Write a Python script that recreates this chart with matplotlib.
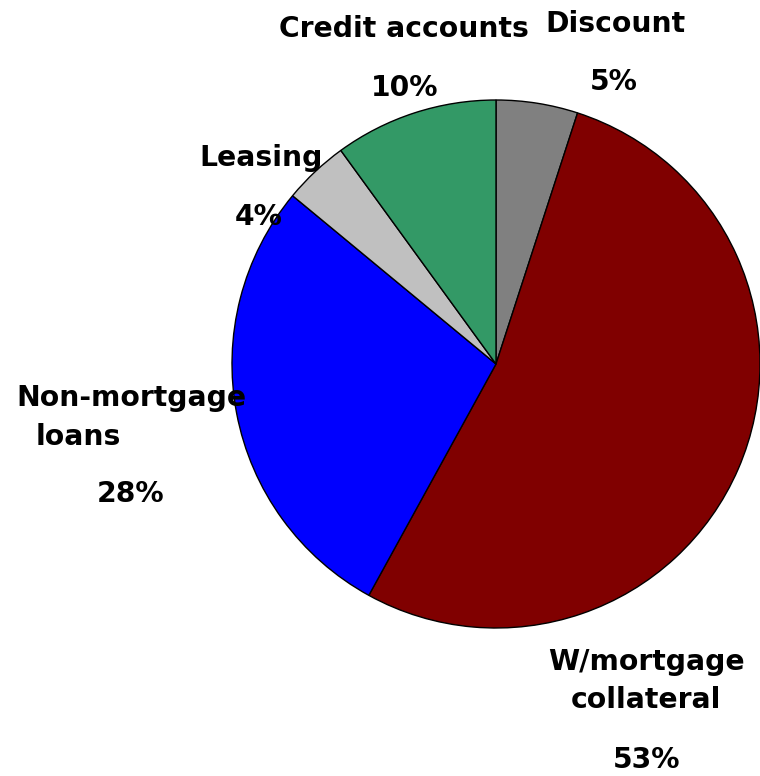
import matplotlib.pyplot as plt

# slice data, clockwise from 12 o'clock
labels = ['Discount', 'W/mortgage\ncollateral', 'Non-mortgage\nloans', 'Leasing', 'Credit accounts']
shares = [5, 53, 28, 4, 10]
colors = ['#808080', '#800000', '#0000FF', '#C0C0C0', '#339966']

fig = plt.figure(figsize=(7.6, 7.76), dpi=100)
# centre of the pie at about (496, 364) px, radius 264 px
ax = fig.add_axes([232 / 760, 148 / 776, 528 / 760, 528 / 776])
ax.pie(shares, colors=colors, startangle=90, counterclock=False, radius=1,
       wedgeprops=dict(edgecolor='black', linewidth=1))
ax.set_xlim(-1, 1)
ax.set_ylim(-1, 1)
ax.set_aspect('equal')
ax.axis('off')


def px(x, y):
    return (x - 496) / 264, (364 - y) / 264


fs = 20.3
kw = dict(fontsize=fs, fontweight='bold', ha='center', va='center', clip_on=False)

# label text and the percentage under it
ax.text(*px(615, 24), labels[0], **kw)
ax.text(*px(614, 82), f'{shares[0]}%', **kw)

ax.text(*px(646, 662), 'W/mortgage', **kw)
ax.text(*px(646, 700), 'collateral', **kw)
ax.text(*px(647, 760), f'{shares[1]}%', **kw)

ax.text(*px(131, 398), 'Non-mortgage', **kw)
ax.text(*px(78, 437), 'loans', **kw)
ax.text(*px(131, 494), f'{shares[2]}%', **kw)

ax.text(*px(261, 158), labels[3], **kw)
ax.text(*px(259, 217), f'{shares[3]}%', **kw)

ax.text(*px(404, 29), labels[4], **kw)
ax.text(*px(405, 88), f'{shares[4]}%', **kw)

fig.savefig('out.png', dpi=100)
